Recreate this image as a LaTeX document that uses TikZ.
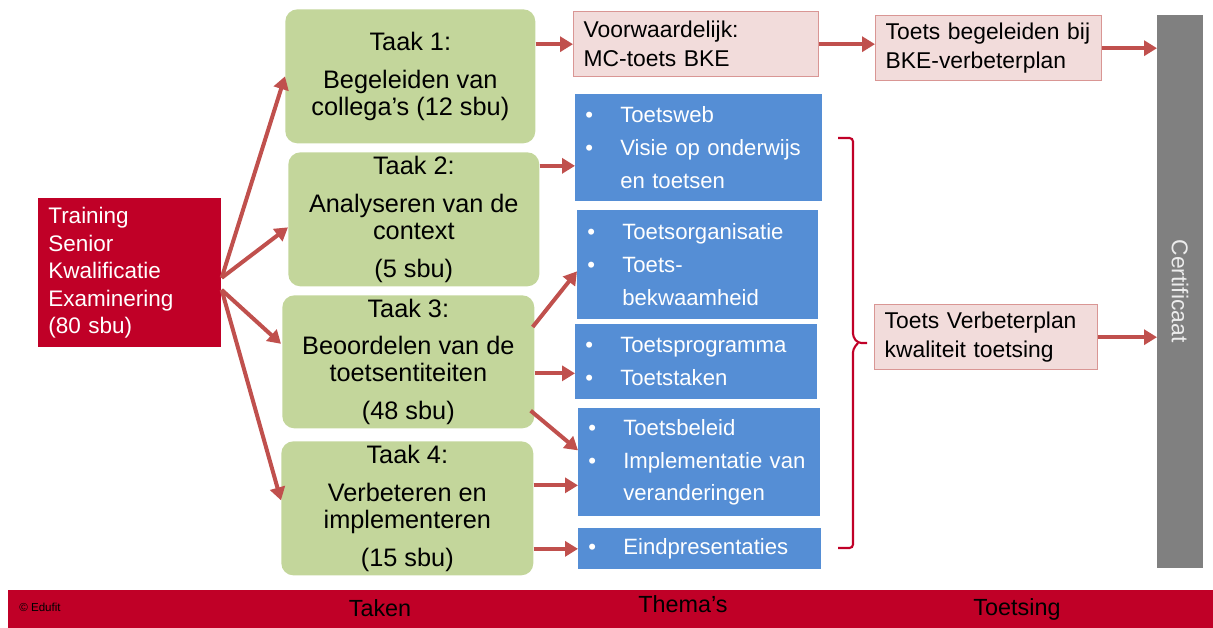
\documentclass[tikz,border=0pt]{standalone}
\usepackage{fontspec}
\setmainfont{Liberation Sans}
\usepackage{xcolor}
\usepackage{tikz}
\usetikzlibrary{positioning}
\usetikzlibrary{arrows.meta}
\pgfdeclarelayer{nodelayer}
\pgfdeclarelayer{edgelayer}
\pgfsetlayers{nodelayer,edgelayer,main}
\definecolor{edured}{RGB}{192,0,39}
\definecolor{taakgroen}{RGB}{195,214,155}
\definecolor{themablauw}{RGB}{85,142,213}
\definecolor{toetsroze}{RGB}{242,220,219}
\definecolor{toetsrand}{RGB}{217,150,148}
\definecolor{pijlrood}{RGB}{192,80,77}
\newcommand{\bol}{\makebox[0.7cm][l]{\textbullet}}
\newcommand{\inspr}{\hspace*{0.7cm}}

\begin{document}
\begin{tikzpicture}[x=0.02cm, y=-0.02cm,
    taak/.style={rectangle, rounded corners=0.24cm, fill=taakgroen, anchor=north west,
      align=center, inner sep=0pt, font=\fontsize{14.4}{15.3}\selectfont},
    thema/.style={rectangle, fill=themablauw, text=white, anchor=north west, align=left,
      inner xsep=0.2cm, inner ysep=0pt, font=\fontsize{12.6}{18.7}\selectfont},
    toets/.style={rectangle, fill=toetsroze, draw=toetsrand, line width=0.8pt, anchor=north west,
      align=left, inner xsep=0.2cm, inner ysep=0pt, font=\fontsize{13}{16.4}\selectfont},
    pijl/.style={draw=pijlrood, line width=0.08cm, -{Triangle[length=0.26cm, width=0.3cm]}}]
  \useasboundingbox (0,0) rectangle (1213,628);
  \begin{pgfonlayer}{nodelayer}
    \node [rectangle, fill=edured, text=white, anchor=north west, align=left, inner xsep=0.2cm,
      inner ysep=0pt, text width=3.26cm, minimum height=2.98cm,
      font=\fontsize{12.8}{15.7}\selectfont] (0) at (38, 198)
      {Training\\Senior\\Kwalificatie\\Examinering\\(80 sbu)};
    \node [taak, minimum width=5cm, minimum height=2.68cm] (1) at (285, 9)
      {Taak 1:\\[6.2pt]Begeleiden van\\collega’s (12 sbu)};
    \node [taak, minimum width=5.02cm, minimum height=2.68cm] (2) at (288, 152)
      {Taak 2:\\[6.2pt]Analyseren van de\\context\\[6.2pt](5 sbu)};
    \node [taak, minimum width=5.04cm, minimum height=2.66cm] (3) at (282, 295)
      {Taak 3:\\[6.2pt]Beoordelen van de\\toetsentiteiten\\[6.2pt](48 sbu)};
    \node [taak, minimum width=5.04cm, minimum height=2.68cm] (4) at (281, 441)
      {Taak 4:\\[6.2pt]Verbeteren en\\implementeren\\[6.2pt](15 sbu)};
    \node [toets, text width=4.5cm, minimum height=1.3cm] (5) at (573, 11)
      {Voorwaardelijk:\\MC-toets BKE};
    \node [toets, text width=4.12cm, minimum height=1.3cm] (6) at (875, 15)
      {Toets begeleiden bij\\BKE-verbeterplan};
    \node [rectangle, fill=gray, anchor=north west, minimum width=0.92cm, minimum height=11.06cm,
      inner sep=0pt] (7) at (1157, 15) {};
    \node [toets, text width=4.06cm, minimum height=1.3cm] (8) at (874, 304)
      {Toets Verbeterplan\\kwaliteit toetsing};
    \node [thema, text width=4.54cm, minimum height=2.14cm] (9) at (575, 94)
      {\bol Toetsweb\\\bol Visie op onderwijs\\\inspr en toetsen};
    \node [thema, text width=4.42cm, minimum height=2.18cm] (10) at (577, 210)
      {\bol Toetsorganisatie\\\bol Toets-\\\inspr bekwaamheid};
    \node [thema, text width=4.44cm, minimum height=1.5cm] (11) at (575, 324)
      {\bol Toetsprogramma\\\bol Toetstaken};
    \node [thema, text width=4.44cm, minimum height=2.16cm] (12) at (578, 408)
      {\bol Toetsbeleid\\\bol Implementatie van\\\inspr veranderingen};
    \node [thema, text width=4.46cm, minimum height=0.82cm] (13) at (578, 528)
      {\bol Eindpresentaties};
    \node [rectangle, fill=edured, anchor=north west, minimum width=24.1cm, minimum height=0.76cm,
      inner sep=0pt] (14) at (8, 590) {};
    \node [font=\fontsize{6.6}{7}\selectfont] (15) at (40, 607) {© Edufit};
    \node [font=\fontsize{13.3}{15}\selectfont] (16) at (380, 608) {Taken};
    \node [font=\fontsize{13.3}{15}\selectfont] (17) at (683, 604) {Thema’s};
    \node [font=\fontsize{13.3}{15}\selectfont] (18) at (1017, 609) {Toetsing};
    \node [rotate=-90, text=gray!15, font=\fontsize{13}{15}\selectfont] (19) at (1180, 291) {Certificaat};
  \end{pgfonlayer}
  \begin{pgfonlayer}{edgelayer}
    \draw [pijl] ([yshift=-0.1cm]0.east) -- (1.west);
    \draw [pijl] ([yshift=-0.1cm]0.east) -- ([yshift=-0.16cm]2.west);
    \draw [pijl] ([yshift=-0.34cm]0.east) -- ([xshift=-0.02cm, yshift=0.36cm]3.west);
    \draw [pijl] ([yshift=-0.34cm]0.east) -- ([yshift=0.16cm]4.west);
    \draw [pijl] (5.west -| 1.east) -- (5.west);
    \draw [pijl] (5.east) -- (5.east -| 6.west);
    \draw [pijl] (6.east) -- (6.east -| 7.west);
    \draw [pijl] (8.east) -- (8.east -| 7.west);
    \draw [pijl] ([yshift=-0.36cm]9.west -| 2.east) -- ([yshift=-0.36cm]9.west);
    \draw [pijl] ([xshift=-0.04cm, yshift=-0.64cm]3.north east) -- ([yshift=-0.13cm]10.west);
    \draw [pijl] ([yshift=-0.23cm]11.west -| 3.east) -- ([yshift=-0.23cm]11.west);
    \draw [pijl] ([xshift=-0.08cm, yshift=0.36cm]3.south east) -- ([yshift=0.24cm]12.west);
    \draw [pijl] ([yshift=-0.46cm]12.west -| 4.east) -- ([yshift=-0.46cm]12.west);
    \draw [pijl] (13.west -| 4.east) -- (13.west);
    % accolade
    \draw [edured, line width=1.2pt, rounded corners=2pt] (838, 138) -- (853, 138) -- (853, 337)
      -- (858, 343) -- (867, 343);
    \draw [edured, line width=1.2pt, rounded corners=2pt] (858, 343) -- (853, 349) -- (853, 548)
      -- (838, 548);
  \end{pgfonlayer}
\end{tikzpicture}
\end{document}
